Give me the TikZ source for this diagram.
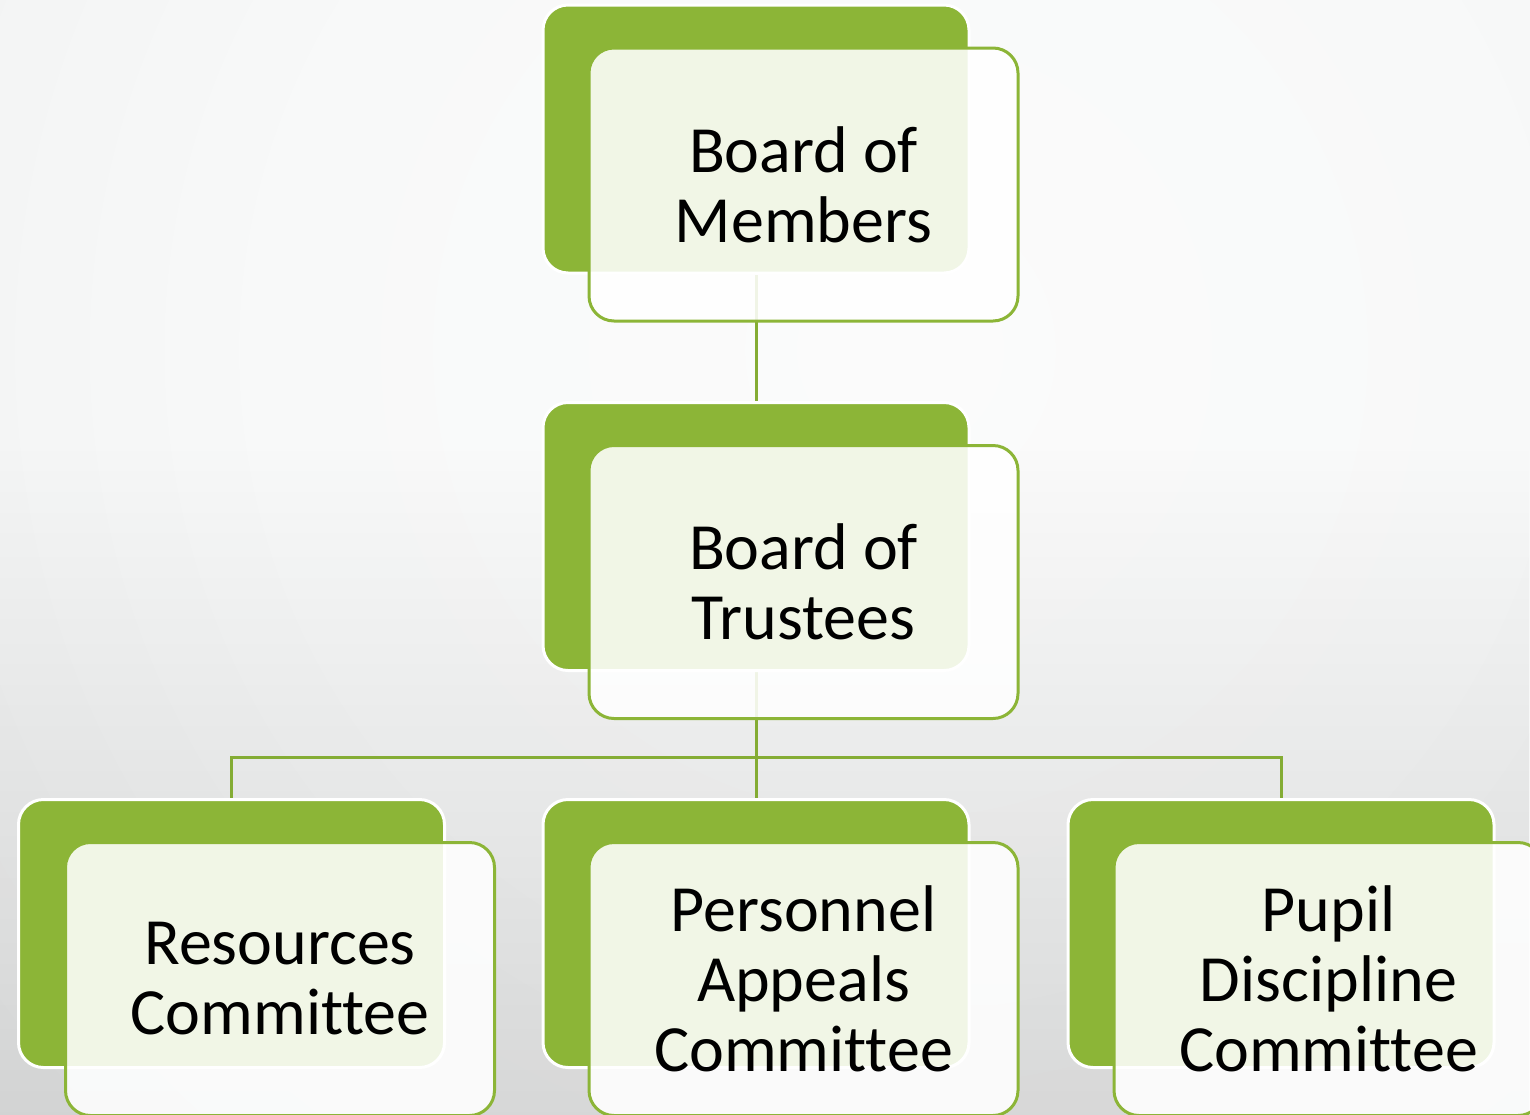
\documentclass[tikz,border=0pt]{standalone}
\usepackage{fontspec}
\setmainfont{Carlito}[Ligatures=NoCommon]
\usetikzlibrary{fadings}
\pgfdeclarelayer{bg}
\pgfdeclarelayer{conn}
\pgfsetlayers{bg,conn,main}
\definecolor{lgreen}{RGB}{140,181,55}
\definecolor{cgreen}{RGB}{132,172,52}
\definecolor{bgc0}{RGB}{251,251,251}
\definecolor{bgc1}{RGB}{248,249,249}
\definecolor{bgc2}{RGB}{239,240,240}
\definecolor{bgc3}{RGB}{228,230,230}
\definecolor{bgc4}{RGB}{224,226,226}
\pgfdeclareradialshading{bgshade}{\pgfpoint{0bp}{0bp}}{color(0bp)=(bgc0); color(13bp)=(bgc1); color(27bp)=(bgc2); color(42bp)=(bgc3); color(50bp)=(bgc4)}
\tikzfading[name=bottomfade, top color=transparent!100, bottom color=transparent!0]
\tikzset{
  backbox/.style={fill=lgreen, draw=white, line width=1.5pt, rounded corners=12.5pt,
    minimum width=213pt, minimum height=134pt, inner sep=0pt},
  frontbox/.style={fill=white, fill opacity=0.88, text opacity=1, draw=lgreen, draw opacity=1,
    line width=1.5pt, rounded corners=12.5pt, minimum width=214.5pt, minimum height=136.5pt,
    inner sep=0pt, align=center, font=\fontsize{33}{35}\selectfont},
  conn/.style={draw=cgreen, line width=1.5pt}
}
\begin{document}
\begin{tikzpicture}[x=0.5pt,y=-0.5pt]
\useasboundingbox (0,0) rectangle (1530,1114);
\begin{pgfonlayer}{bg}
  \begin{scope}
    \clip (0,0) rectangle (1530,1114);
    \fill[bgc4] (0,0) rectangle (1530,1114);
    \shade[shading=bgshade] (900,350) circle [radius=600pt];
    \fill[black, opacity=0.16, path fading=bottomfade] (0,440) rectangle (1530,1314);
  \end{scope}
\end{pgfonlayer}
% back (green) boxes
\node[backbox] (g1) at (756,139) {};
\node[backbox] (g2) at (756,536.5) {};
\node[backbox] (g3) at (231.5,933.5) {};
\node[backbox] (g4) at (756,933.5) {};
\node[backbox] (g5) at (1281,933.5) {};
% front boxes with text
\node[frontbox] (f1) at (803.5,184.5) {Board of\\Members};
\node[frontbox] (f2) at (803.5,582) {Board of\\Trustees};
\node[frontbox] (f3) at (280,979) {Resources\\Committee};
\node[frontbox] (f4) at (803.5,979) {Personnel\\Appeals\\Committee};
\node[frontbox] (f5) at (1328.5,979) {Pupil\\Discipline\\Committee};
% connectors
\coordinate (j) at (756,757);
\begin{pgfonlayer}{conn}
  \draw[conn] (g1.south) -- (g2.north);
  \draw[conn] (g2.south) -- (j);
  \draw[conn] (j) -- (g4.north);
  \draw[conn] (g3.north) |- (j);
  \draw[conn] (j) -| (g5.north);
\end{pgfonlayer}
\end{tikzpicture}
\end{document}
